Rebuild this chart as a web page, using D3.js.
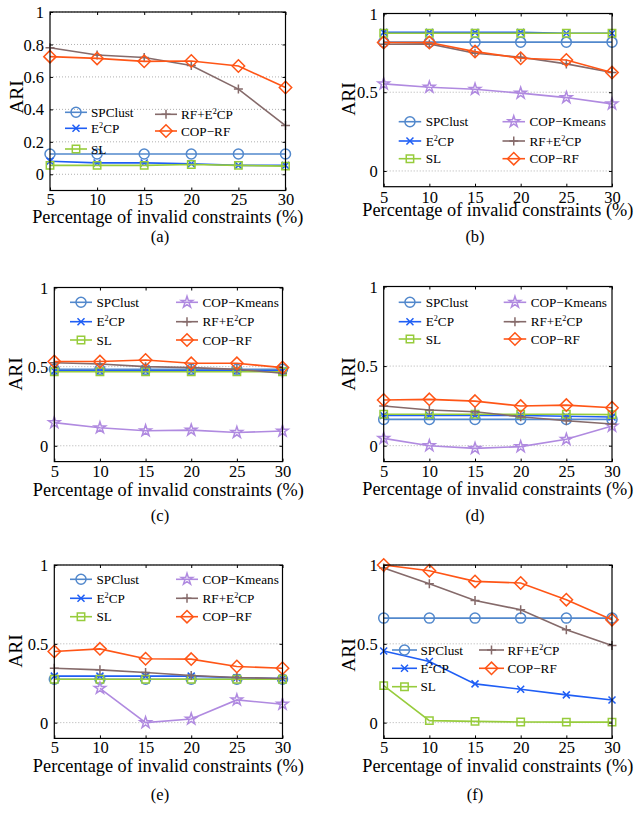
<!DOCTYPE html>
<html><head><meta charset="utf-8">
<script src="https://cdn.jsdelivr.net/npm/d3@7"></script>
<style>
body{margin:0;background:#fff;}
svg text{font-family:"Liberation Serif","Times New Roman",serif;fill:#000;}
</style></head><body>
<svg id="fig" width="634" height="817"></svg>
<script>
// x axis: share of invalid pairwise constraints
const pct = [5, 10, 15, 20, 25, 30];

// series order shared by every panel
const seriesNames = ["SPClust", "E^2CP", "SL", "COP\u2212Kmeans", "RF+E^2CP", "COP\u2212RF"];
const seriesColors = ["#5288cc", "#1f5ef5", "#97cc3c", "#b08ae0", "#856a6a", "#ff5516"];
const seriesMarkers = ["circle", "x", "square", "star", "plus", "diamond"];

// ARI per panel, one row per series (null = method not shown)
const ariA = [
  [0.125, 0.125, 0.125, 0.125, 0.125, 0.125],
  [0.08, 0.07, 0.07, 0.065, 0.055, 0.055],
  [0.055, 0.055, 0.055, 0.06, 0.055, 0.05],
  null,
  [0.78, 0.735, 0.72, 0.67, 0.525, 0.30],
  [0.725, 0.714, 0.696, 0.698, 0.667, 0.535]
];
const ariB = [
  [0.818, 0.818, 0.818, 0.818, 0.818, 0.818],
  [0.88, 0.88, 0.88, 0.88, 0.875, 0.875],
  [0.875, 0.875, 0.875, 0.875, 0.875, 0.875],
  [0.553, 0.532, 0.519, 0.494, 0.466, 0.426],
  [0.805, 0.807, 0.748, 0.722, 0.68, 0.625],
  [0.816, 0.816, 0.758, 0.716, 0.705, 0.625]
];
const ariC = [
  [0.483, 0.483, 0.483, 0.483, 0.483, 0.483],
  [0.473, 0.473, 0.473, 0.473, 0.473, 0.473],
  [0.468, 0.468, 0.468, 0.468, 0.468, 0.468],
  [0.146, 0.114, 0.095, 0.099, 0.084, 0.093],
  [0.525, 0.517, 0.50, 0.494, 0.483, 0.458],
  [0.532, 0.532, 0.542, 0.521, 0.521, 0.494]
];
const ariD = [
  [0.165, 0.165, 0.165, 0.165, 0.165, 0.165],
  [0.19, 0.19, 0.19, 0.19, 0.185, 0.18],
  [0.197, 0.197, 0.197, 0.197, 0.197, 0.195],
  [0.046, 0.0, -0.017, -0.006, 0.04, 0.123],
  [0.249, 0.224, 0.213, 0.182, 0.157, 0.136],
  [0.287, 0.291, 0.280, 0.249, 0.255, 0.238]
];
const ariE = [
  [0.275, 0.275, 0.275, 0.275, 0.275, 0.275],
  [0.295, 0.295, 0.295, 0.295, 0.285, 0.28],
  [0.275, 0.275, 0.275, 0.275, 0.275, 0.275],
  [null, 0.218, 0.0, 0.023, 0.144, 0.117],
  [0.345, 0.335, 0.318, 0.299, 0.286, 0.28],
  [0.451, 0.468, 0.405, 0.403, 0.356, 0.345]
];
const ariF = [
  [0.663, 0.663, 0.663, 0.663, 0.663, 0.663],
  [0.455, 0.388, 0.246, 0.212, 0.176, 0.144],
  [0.235, 0.013, 0.008, 0.004, 0.003, 0.003],
  null,
  [0.981, 0.881, 0.775, 0.716, 0.589, 0.489],
  [1.0, 0.964, 0.896, 0.886, 0.78, 0.653]
];

const yTicksFine = [0, 0.2, 0.4, 0.6, 0.8, 1];
const yTicksCoarse = [0, 0.5, 1];
const xTitle = "Percentage of invalid constraints (%)";
const yTitle = "ARI";

// panel layout: plot rectangle, legend placement, label baselines
const panels = [
  {id: "(a)", data: ariA, ticks: yTicksFine, x0: 50, x1: 285.5, y0: 12, y1: 190.5,
   tickY: 205, xlab: 223, ylabX: 17, ylabY: 97, cap: [160, 242],
   leg: {c1: 65, c2: 155, len: 22, gap: 4, rows: {0: [1, 112.3], 1: [1, 128.3], 2: [1, 149], 4: [2, 114.3], 5: [2, 131]}}},
  {id: "(b)", data: ariB, ticks: yTicksCoarse, x0: 383.7, x1: 612, y0: 13.5, y1: 186.7,
   tickY: 203.5, xlab: 216, ylabX: 349, ylabY: 99, cap: [475, 242],
   leg: {c1: 398.7, c2: 502.5, len: 22.5, gap: 4.5, rows: {0: [1, 121.7], 1: [1, 141], 2: [1, 158.7], 3: [2, 121.7], 4: [2, 141], 5: [2, 158.7]}}},
  {id: "(c)", data: ariC, ticks: yTicksCoarse, x0: 54.3, x1: 282.5, y0: 287.5, y1: 461.6,
   tickY: 477.5, xlab: 496, ylabX: 16, ylabY: 374, cap: [160, 521],
   leg: {c1: 70, c2: 176, len: 22, gap: 4.5, rows: {0: [1, 302.3], 1: [1, 321.7], 2: [1, 340], 3: [2, 302.3], 4: [2, 321.7], 5: [2, 340]}}},
  {id: "(d)", data: ariD, ticks: yTicksCoarse, x0: 383.7, x1: 612, y0: 286.5, y1: 461.6,
   tickY: 477, xlab: 495, ylabX: 349, ylabY: 374, cap: [475, 521],
   leg: {c1: 398.7, c2: 503.7, len: 22.5, gap: 4.5, rows: {0: [1, 302.3], 1: [1, 321.7], 2: [1, 339], 3: [2, 302.3], 4: [2, 321.7], 5: [2, 339]}}},
  {id: "(e)", data: ariE, ticks: yTicksCoarse, x0: 54.3, x1: 282.5, y0: 565, y1: 738.4,
   tickY: 753.5, xlab: 771.5, ylabX: 16, ylabY: 651, cap: [160, 800],
   leg: {c1: 70, c2: 176, len: 22, gap: 4.5, rows: {0: [1, 579.3], 1: [1, 598.3], 2: [1, 616.7], 3: [2, 579.3], 4: [2, 598.3], 5: [2, 616.7]}}},
  {id: "(f)", data: ariF, ticks: yTicksCoarse, x0: 383.7, x1: 612, y0: 565, y1: 738.4,
   tickY: 753.5, xlab: 771.5, ylabX: 349, ylabY: 655, cap: [475, 800],
   leg: {c1: 392, c2: 479, len: 25, gap: 3.5, rows: {0: [1, 650], 1: [1, 668.3], 2: [1, 686.7], 4: [2, 650], 5: [2, 668.3]}}}
];

const svg = d3.select("#fig");

// MATLAB-style open marker glyphs
function markerPath(kind) {
  const p = d3.path();
  if (kind === "circle") { p.moveTo(5, 0); p.arc(0, 0, 5, 0, 2 * Math.PI); }
  else if (kind === "square") { p.rect(-3.7, -3.7, 7.4, 7.4); }
  else if (kind === "diamond") { p.moveTo(0, -6.2); p.lineTo(6.2, 0); p.lineTo(0, 6.2); p.lineTo(-6.2, 0); p.closePath(); }
  else if (kind === "x") { p.moveTo(-3.5, -3.5); p.lineTo(3.5, 3.5); p.moveTo(-3.5, 3.5); p.lineTo(3.5, -3.5); }
  else if (kind === "plus") { p.moveTo(-4.5, 0); p.lineTo(4.5, 0); p.moveTo(0, -4.5); p.lineTo(0, 4.5); }
  else if (kind === "star") {
    const R = 6, r = R * 0.382;
    for (let i = 0; i < 10; i++) {
      const a = -Math.PI / 2 + i * Math.PI / 5, rr = i % 2 ? r : R;
      const px = rr * Math.cos(a), py = rr * Math.sin(a);
      if (i === 0) p.moveTo(px, py); else p.lineTo(px, py);
    }
    p.closePath();
  }
  return p.toString();
}

// write "E^2CP" style names with a raised 2
function richText(sel, str, size) {
  const parts = str.split(/\^(\d)/);
  let back = 0;
  parts.forEach((t, i) => {
    if (!t) return;
    if (i % 2 === 1) {
      sel.append("tspan").attr("font-size", size * 0.62).attr("dy", -size * 0.38).text(t);
      back = size * 0.38;
    } else {
      sel.append("tspan").attr("dy", back).text(t);
      back = 0;
    }
  });
}

panels.forEach(P => {
  const g = svg.append("g");
  const x = d3.scaleLinear().domain([5, 30]).range([P.x0, P.x1]);
  const y = d3.scaleLinear().domain([-0.1, 1]).range([P.y1, P.y0]);

  // dotted horizontal grid at y ticks
  g.selectAll("line.grid").data(P.ticks).join("line")
    .attr("x1", P.x0).attr("x2", P.x1).attr("y1", d => y(d)).attr("y2", d => y(d))
    .attr("stroke", "#b0b0b0").attr("stroke-width", 1).attr("stroke-dasharray", "1,2");

  // series lines and markers
  P.data.forEach((vals, si) => {
    if (!vals) return;
    const pts = pct.map((p, i) => [p, vals[i]]).filter(d => d[1] != null);
    const col = seriesColors[si];
    g.append("path").datum(pts)
      .attr("d", d3.line().x(d => x(d[0])).y(d => y(d[1])))
      .attr("fill", "none").attr("stroke", col).attr("stroke-width", 1.6);
    g.selectAll(null).data(pts).join("path")
      .attr("transform", d => `translate(${x(d[0])},${y(d[1])})`)
      .attr("d", markerPath(seriesMarkers[si]))
      .attr("fill", "none").attr("stroke", col).attr("stroke-width", 1.5);
  });

  // axes box with inward ticks on all sides
  const xa = d3.axisBottom(x).tickValues(pct).tickSizeInner(-3).tickSizeOuter(0);
  const xt = d3.axisTop(x).tickValues(pct).tickSizeInner(-3).tickSizeOuter(0).tickFormat("");
  const ya = d3.axisLeft(y).tickValues(P.ticks).tickSizeInner(-3).tickSizeOuter(0).tickPadding(6).tickFormat(d3.format("~g"));
  const yr = d3.axisRight(y).tickValues(P.ticks).tickSizeInner(-3).tickSizeOuter(0).tickFormat("");
  const styleAxis = s => {
    s.select(".domain").remove();
    s.selectAll("line").attr("stroke", "#000").attr("stroke-width", 1);
    s.selectAll("text").attr("font-size", 16.5).attr("font-family", "Liberation Serif").attr("fill", "#000");
  };
  g.append("g").attr("transform", `translate(0,${P.y1})`).call(xa).call(styleAxis)
    .selectAll("text").attr("y", P.tickY - P.y1).attr("dy", 0);
  g.append("g").attr("transform", `translate(0,${P.y0})`).call(xt).call(styleAxis);
  g.append("g").attr("transform", `translate(${P.x0},0)`).call(ya).call(styleAxis)
    .selectAll("text").attr("dy", "0.34em");
  g.append("g").attr("transform", `translate(${P.x1},0)`).call(yr).call(styleAxis);
  g.append("rect").attr("x", P.x0).attr("y", P.y0).attr("width", P.x1 - P.x0).attr("height", P.y1 - P.y0)
    .attr("fill", "none").attr("stroke", "#000").attr("stroke-width", 1.2);

  // axis titles
  g.append("text").attr("x", (P.x0 + P.x1) / 2).attr("y", P.xlab)
    .attr("text-anchor", "middle").attr("font-size", 18.3).text(xTitle);
  g.append("text").attr("transform", `translate(${P.ylabX + 6},${P.ylabY}) rotate(-90)`)
    .attr("text-anchor", "middle").attr("font-size", 19.5).text(yTitle);

  // legend (no frame), two columns
  const L = P.leg;
  Object.keys(L.rows).forEach(k => {
    const si = +k, [colIdx, ry] = L.rows[k];
    const lx = colIdx === 1 ? L.c1 : L.c2;
    const col = seriesColors[si];
    g.append("line").attr("x1", lx).attr("x2", lx + L.len).attr("y1", ry).attr("y2", ry)
      .attr("stroke", col).attr("stroke-width", 1.6);
    g.append("path").attr("transform", `translate(${lx + L.len / 2},${ry})`)
      .attr("d", markerPath(seriesMarkers[si])).attr("fill", "none")
      .attr("stroke", col).attr("stroke-width", 1.5);
    const t = g.append("text").attr("x", lx + L.len + L.gap).attr("y", ry + 4.6).attr("font-size", 13.2);
    richText(t, seriesNames[si], 13.2);
  });

  // panel caption
  g.append("text").attr("x", P.cap[0]).attr("y", P.cap[1]).attr("text-anchor", "middle")
    .attr("font-size", 16.5).text(P.id);
});
</script>
</body></html>
